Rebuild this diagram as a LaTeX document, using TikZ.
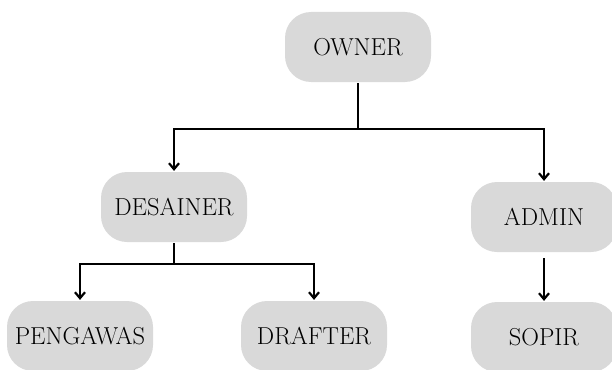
\documentclass[tikz,border=0pt]{standalone}
\usepackage{fontspec}
\usetikzlibrary{arrows.meta,calc}
\definecolor{boxgray}{HTML}{D9D9D9}
\tikzset{>={Straight Barb[length=6pt,width=10pt]},
  every node/.style={font=\fontsize{24.5}{28}\selectfont},
  unit/.style={fill=boxgray,rounded corners=26pt,minimum width=146pt,minimum height=70pt,inner sep=0pt},
  link/.style={->,draw=black}}

\begin{document}
\begin{tikzpicture}[x=1pt,y=-1pt,line width=2.2pt]
\path[use as bounding box] (0,0) rectangle (612,369);
\node[unit] (owner) at (358,47) {OWNER};
\node[unit] (desainer) at (174,207) {DESAINER};\node[unit] (admin) at (544,217) {ADMIN};
\node[unit] (pengawas) at (80,336) {PENGAWAS};\node[unit] (drafter) at (314,336) {DRAFTER};\node[unit] (sopir) at (544,337) {SOPIR};
\draw (owner.south) -- ++(0,46) coordinate (j1);
\draw[link] (j1) -| (desainer.north);\draw[link] (j1) -| (admin.north);
\draw (desainer.south) -- ++(0,21) coordinate (j2);
\draw[link] (j2) -| (pengawas.north);\draw[link] (j2) -| (drafter.north);
\draw[link,shorten <=5pt] (admin) -- (sopir);
\end{tikzpicture}
\end{document}
